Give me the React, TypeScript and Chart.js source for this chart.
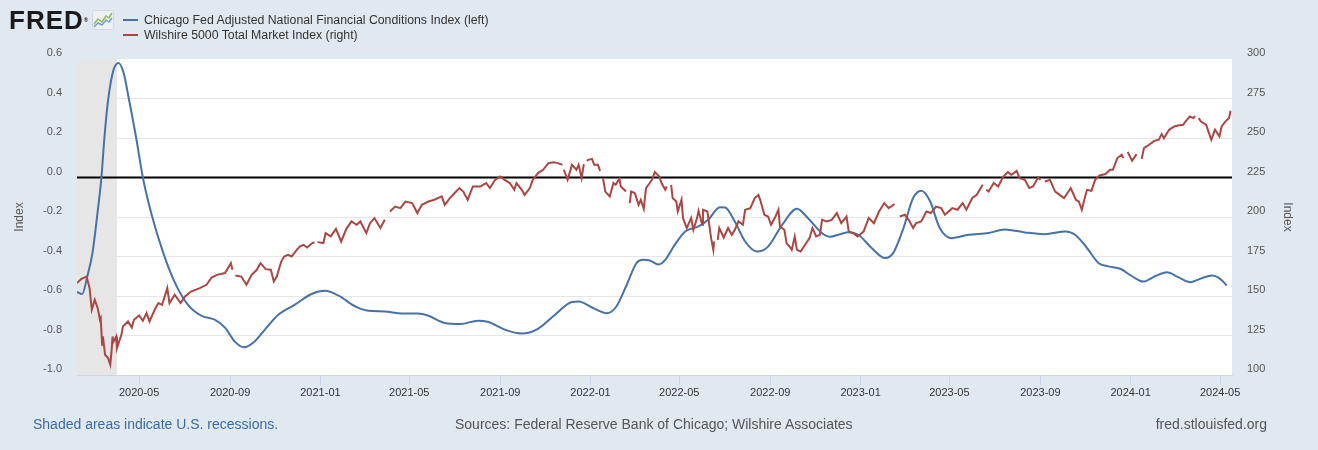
import React, { useEffect, useRef } from 'react';
import { Chart, registerables } from 'chart.js';

Chart.register(...registerables);

const FONT = '"Liberation Sans", Arial, Helvetica, sans-serif';

// ---------- data ----------
const xRange = ['2020-02-07', '2024-05-17'];
const recession = ['2020-02-01', '2020-04-01'];
const xTickLabels = ['2020-05', '2020-09', '2021-01', '2021-05', '2021-09', '2022-01', '2022-05', '2022-09', '2023-01', '2023-05', '2023-09', '2024-01', '2024-05'];
const leftTicks = [-1.0, 0.6, 0.2]; // min, max, step
const rightTicks = [100, 300, 25]; // min, max, step

const anfciDates = [
  '2020-02-07', '2020-02-14', '2020-02-21', '2020-02-28', '2020-03-06', '2020-03-11', '2020-03-15', '2020-03-20', '2020-03-27',
  '2020-04-03', '2020-04-10', '2020-04-17', '2020-04-27', '2020-05-06', '2020-05-18', '2020-06-02', '2020-06-18', '2020-07-06',
  '2020-07-24', '2020-08-11', '2020-08-25', '2020-09-07', '2020-09-20', '2020-10-04', '2020-10-18', '2020-11-05', '2020-11-27',
  '2020-12-20', '2021-01-07', '2021-01-25', '2021-02-17', '2021-03-07', '2021-03-29', '2021-04-21', '2021-05-13', '2021-05-27',
  '2021-06-18', '2021-07-09', '2021-08-02', '2021-08-16', '2021-09-07', '2021-09-30', '2021-10-22', '2021-11-14', '2021-12-07',
  '2021-12-16', '2022-01-03', '2022-01-23', '2022-02-05', '2022-02-19', '2022-03-04', '2022-03-13', '2022-03-22', '2022-04-03',
  '2022-04-12', '2022-04-25', '2022-05-09', '2022-05-27', '2022-06-09', '2022-06-25', '2022-07-02', '2022-07-15', '2022-07-29',
  '2022-08-14', '2022-08-29', '2022-09-17', '2022-10-07', '2022-10-22', '2022-11-10', '2022-11-21', '2022-12-04', '2022-12-16',
  '2022-12-29', '2023-01-16', '2023-02-03', '2023-02-14', '2023-02-28', '2023-03-13', '2023-03-24', '2023-04-05', '2023-04-18',
  '2023-05-04', '2023-05-27', '2023-06-23', '2023-07-15', '2023-08-11', '2023-09-07', '2023-10-05', '2023-10-18', '2023-11-03',
  '2023-11-19', '2023-12-02', '2023-12-18', '2024-01-03', '2024-01-18', '2024-02-03', '2024-02-19', '2024-03-06', '2024-03-22',
  '2024-04-06', '2024-04-20', '2024-05-01', '2024-05-10',
];
const anfciValues = [
  -0.58, -0.59, -0.50, -0.38, -0.17, 0.00, 0.20, 0.39, 0.54,
  0.58, 0.53, 0.40, 0.20, 0.00, -0.19, -0.375, -0.53, -0.645,
  -0.70, -0.72, -0.76, -0.83, -0.86, -0.83, -0.77, -0.695, -0.645,
  -0.59, -0.574, -0.597, -0.653, -0.675, -0.678, -0.689, -0.689, -0.70,
  -0.737, -0.742, -0.725, -0.732, -0.77, -0.79, -0.766, -0.695, -0.63,
  -0.628, -0.658, -0.687, -0.653, -0.543, -0.434, -0.417, -0.42, -0.44,
  -0.417, -0.34, -0.273, -0.248, -0.214, -0.15, -0.152, -0.223, -0.324,
  -0.375, -0.35, -0.24, -0.158, -0.206, -0.282, -0.30, -0.287, -0.277,
  -0.29, -0.357, -0.408, -0.383, -0.256, -0.104, -0.067, -0.12, -0.256,
  -0.307, -0.29, -0.281, -0.263, -0.278, -0.287, -0.273, -0.29, -0.357,
  -0.434, -0.45, -0.462, -0.50, -0.527, -0.50, -0.48, -0.506, -0.53,
  -0.51, -0.496, -0.513, -0.547,
];

const wilshireDates = [
  '2020-02-07', '2020-02-13', '2020-02-20', '2020-02-24', '2020-02-27',
  '2020-03-02', '2020-03-06', '2020-03-09', '2020-03-10', '2020-03-12', '2020-03-13', '2020-03-16', '2020-03-20', '2020-03-23', '2020-03-25', '2020-03-26', '2020-03-27', '2020-03-31',
  '2020-04-01', '2020-04-07', '2020-04-09', '2020-04-16', '2020-04-21', '2020-04-24',
  '2020-05-01', '2020-05-06', '2020-05-11', '2020-05-15', '2020-05-22', '2020-05-27',
  '2020-06-01', '2020-06-08', '2020-06-11', '2020-06-18', '2020-06-26',
  '2020-07-02', '2020-07-10', '2020-07-22', '2020-07-31',
  '2020-08-07', '2020-08-14', '2020-08-25',
  '2020-09-02', '2020-09-04', '2020-09-07', '2020-09-08', '2020-09-16', '2020-09-23', '2020-09-30',
  '2020-10-07', '2020-10-12', '2020-10-19', '2020-10-26', '2020-10-30',
  '2020-11-03', '2020-11-09', '2020-11-13', '2020-11-18', '2020-11-23', '2020-11-30',
  '2020-12-04', '2020-12-09', '2020-12-14', '2020-12-21', '2020-12-24', '2020-12-25', '2020-12-28',
  '2021-01-05', '2021-01-08', '2021-01-15', '2021-01-22', '2021-01-29',
  '2021-02-05', '2021-02-12', '2021-02-19', '2021-02-24',
  '2021-03-04', '2021-03-09', '2021-03-15', '2021-03-23', '2021-03-29',
  '2021-04-02', '2021-04-05', '2021-04-12', '2021-04-19', '2021-04-26',
  '2021-05-05', '2021-05-12', '2021-05-18', '2021-05-27',
  '2021-06-04', '2021-06-14', '2021-06-18', '2021-06-25',
  '2021-07-02', '2021-07-08', '2021-07-13', '2021-07-19', '2021-07-26',
  '2021-08-05', '2021-08-13', '2021-08-18', '2021-08-25',
  '2021-09-01', '2021-09-07', '2021-09-14', '2021-09-20', '2021-09-23', '2021-09-30',
  '2021-10-04', '2021-10-11', '2021-10-15', '2021-10-22', '2021-10-29',
  '2021-11-05', '2021-11-12', '2021-11-18', '2021-11-24', '2021-11-25', '2021-11-26',
  '2021-12-01', '2021-12-07', '2021-12-13', '2021-12-16', '2021-12-20', '2021-12-23', '2021-12-24', '2021-12-27', '2021-12-29',
  '2022-01-03', '2022-01-06', '2022-01-11', '2022-01-14', '2022-01-17', '2022-01-18', '2022-01-21', '2022-01-27',
  '2022-02-01', '2022-02-04', '2022-02-09', '2022-02-11', '2022-02-18', '2022-02-21', '2022-02-23', '2022-02-25',
  '2022-03-02', '2022-03-07', '2022-03-10', '2022-03-14', '2022-03-17', '2022-03-22', '2022-03-25', '2022-03-29',
  '2022-04-04', '2022-04-07', '2022-04-12', '2022-04-14', '2022-04-15', '2022-04-20', '2022-04-22', '2022-04-27', '2022-04-29',
  '2022-05-04', '2022-05-06', '2022-05-11', '2022-05-17', '2022-05-20', '2022-05-25', '2022-05-27',
  '2022-06-01', '2022-06-02', '2022-06-08', '2022-06-13', '2022-06-16', '2022-06-17', '2022-06-20', '2022-06-22', '2022-06-24', '2022-06-30',
  '2022-07-06', '2022-07-11', '2022-07-15', '2022-07-20', '2022-07-26', '2022-07-29',
  '2022-08-05', '2022-08-11', '2022-08-16', '2022-08-19', '2022-08-24', '2022-08-29',
  '2022-09-02', '2022-09-07', '2022-09-12', '2022-09-14', '2022-09-20', '2022-09-23', '2022-09-27', '2022-09-30',
  '2022-10-04', '2022-10-07', '2022-10-12', '2022-10-18', '2022-10-24', '2022-10-28',
  '2022-11-02', '2022-11-07', '2022-11-10', '2022-11-16', '2022-11-23', '2022-11-30',
  '2022-12-02', '2022-12-06', '2022-12-13', '2022-12-16', '2022-12-22', '2022-12-28',
  '2023-01-05', '2023-01-12', '2023-01-19', '2023-01-26',
  '2023-02-02', '2023-02-08', '2023-02-16', '2023-02-20', '2023-02-23',
  '2023-03-02', '2023-03-07', '2023-03-13', '2023-03-17', '2023-03-24', '2023-03-31',
  '2023-04-06', '2023-04-13', '2023-04-20', '2023-04-25',
  '2023-05-05', '2023-05-12', '2023-05-19', '2023-05-24',
  '2023-06-01', '2023-06-07', '2023-06-15', '2023-06-19', '2023-06-20', '2023-06-23', '2023-06-30',
  '2023-07-06', '2023-07-13', '2023-07-19', '2023-07-24', '2023-07-31',
  '2023-08-04', '2023-08-11', '2023-08-17', '2023-08-22', '2023-08-29',
  '2023-09-01', '2023-09-04', '2023-09-07', '2023-09-14', '2023-09-21', '2023-09-27',
  '2023-10-03', '2023-10-09', '2023-10-12', '2023-10-19', '2023-10-23', '2023-10-27', '2023-10-31',
  '2023-11-03', '2023-11-09', '2023-11-14', '2023-11-20', '2023-11-28',
  '2023-12-04', '2023-12-08', '2023-12-14', '2023-12-20', '2023-12-22', '2023-12-25', '2023-12-28',
  '2024-01-03', '2024-01-09', '2024-01-15', '2024-01-16', '2024-01-19', '2024-01-26',
  '2024-02-02', '2024-02-08', '2024-02-12', '2024-02-15', '2024-02-22', '2024-02-29',
  '2024-03-05', '2024-03-12', '2024-03-15', '2024-03-21', '2024-03-26', '2024-03-28', '2024-03-29',
  '2024-04-02', '2024-04-05', '2024-04-12', '2024-04-19', '2024-04-24', '2024-04-30',
  '2024-05-03', '2024-05-08', '2024-05-13', '2024-05-15',
];
const wilshireValues = [
  158.2, 160.9, 162.3, 155.0, 141.3,
  147.6, 142.3, 135.0, 136.0, 119.1, 124.4, 112.8, 110.7, 106.5, 117.0, 124.4, 120.8, 124.4,
  117.0, 125.4, 130.7, 133.9, 130.1, 135.0,
  137.7, 134.3, 139.2, 133.9, 141.3, 145.5,
  144.4, 155.0, 145.5, 150.8, 145.5,
  149.7, 152.8, 155.0, 157.1,
  161.7, 163.4, 164.5,
  170.8, 166.6, null, 163.0, 162.3, 157.1, 163.4,
  166.6, 170.8, 167.0, 166.6, 159.2,
  162.3, 171.8, 175.0, 176.1, 175.0, 179.2,
  181.3, 182.4, 180.7, 183.5, 184.0, null, 184.1,
  183.5, 189.8, 187.7, 192.5, 184.5,
  192.5, 197.2, 195.1, 197.2,
  189.8, 196.1, 199.3, 193.0, 198.2,
  null, 203.5, 206.6, 205.6, 209.8,
  208.8, 202.5, 207.7, 209.8,
  210.9, 213.0, 207.7, 212.0,
  215.5, 218.3, 216.1, 210.9, 219.3,
  219.3, 221.5, 218.3, 223.5,
  225.6, 223.5, 221.5, 217.2, 221.5, 217.2,
  214.0, 218.3, 223.5, 227.8, 229.9,
  234.1, 234.7, 234.1, 233.0, null, 229.9,
  223.5, 233.0, 229.9, 233.0, 224.6, 233.5, null, 235.5, 236.2,
  236.8, 233.0, 233.0, 229.2, null, 224.2, 216.1, 213.0,
  221.5, 220.4, 224.2, 219.3, 216.1, null, 208.8, 216.1,
  215.1, 207.7, 210.9, 205.2, 218.3, 221.5, 223.5, 228.4,
  225.6, 221.5, 217.2, 219.3, null, 220.4, 212.0, 209.8, 203.5,
  210.9, 199.3, 193.0, 199.3, 191.9, 199.3, 203.9,
  195.1, 204.6, 203.5, 186.6, 179.2, 184.5, null, 185.6, 193.0, 187.0,
  193.0, 188.7, 191.9, 197.2, 195.1, 204.6,
  205.6, 212.0, 214.0, 209.8, 201.4, 200.3,
  195.1, 199.3, 204.6, 194.0, 191.9, 183.5, 181.3, 179.2,
  187.7, 179.2, 178.2, 182.4, 186.6, 193.0,
  187.7, 188.7, 198.2, 197.2, 198.2, 202.5,
  200.3, 196.1, 200.3, 190.8, 189.8, 187.7,
  190.8, 199.3, 196.1, 203.5,
  208.8, 205.6, 208.2, null, 200.3,
  201.4, 198.2, 193.0, 196.1, 197.2, 203.5,
  202.5, 206.6, 205.6, 201.4,
  205.6, 204.6, 208.8, 204.6,
  212.0, 214.0, 220.4, null, 217.2, 216.1, 221.5,
  219.3, 225.6, 228.4, 226.7, 229.2,
  224.6, 223.5, 218.3, 219.3, 225.0,
  223.5, null, 222.5, 223.5, 216.1, 214.0,
  212.0, 216.1, 218.3, 210.9, 209.8, 204.6, 212.0,
  217.2, 216.6, 223.5, 226.3, 227.2,
  229.9, 229.9, 237.3, 239.4, 237.3, null, 241.1,
  235.6, 239.8, null, 236.8, 243.6, 245.7,
  248.2, 248.9, 252.5, 249.9, 255.2, 257.3,
  257.9, 258.4, 260.4, 263.6, 262.6, 264.0, null,
  262.6, 260.4, 258.4, 248.9, 255.2, 251.0,
  257.3, 260.4, 262.6, 267.2,
];

// ---------- helpers ----------
function toMs(d: string): number {
  const p = d.split('-').map(Number);
  return Date.UTC(p[0], p[1] - 1, p[2] || 1);
}

const fredPlugin = {
  id: 'fredDecor',
  beforeDraw(chart: any) {
    const { ctx, chartArea: a } = chart;
    ctx.save();
    ctx.fillStyle = '#ffffff';
    ctx.fillRect(a.left, a.top, a.right - a.left, a.bottom - a.top);
    ctx.restore();
  },
  beforeDatasetsDraw(chart: any) {
    const { ctx, chartArea: a, scales } = chart;
    const xs = scales.x;
    const x0 = Math.max(a.left, xs.getPixelForValue(toMs(recession[0])));
    const x1 = Math.min(a.right, xs.getPixelForValue(toMs(recession[1])));
    ctx.save();
    ctx.fillStyle = '#e6e6e6';
    ctx.fillRect(x0, a.top, x1 - x0, a.bottom - a.top);
    const y0 = scales.y.getPixelForValue(0);
    ctx.strokeStyle = '#000000';
    ctx.lineWidth = 2;
    ctx.beginPath();
    ctx.moveTo(a.left, y0);
    ctx.lineTo(a.right, y0);
    ctx.stroke();
    ctx.restore();
  },
};

export default function App() {
  const canvasRef = useRef<HTMLCanvasElement | null>(null);

  useEffect(() => {
    document.body.style.margin = '0';
    const canvas = canvasRef.current;
    if (!canvas) return;

    const anfciData = anfciDates.map((d, i) => ({ x: toMs(d), y: anfciValues[i] }));
    const wilData = wilshireDates.map((d, i) => ({ x: toMs(d), y: wilshireValues[i] }));
    const tickFont = { family: FONT, size: 11 };

    const chart = new Chart(canvas, {
      type: 'line',
      data: {
        datasets: [
          {
            label: 'Wilshire 5000 Total Market Index (right)',
            data: wilData as any,
            yAxisID: 'y2',
            borderColor: '#aa4643',
            borderWidth: 2,
            pointRadius: 0,
            tension: 0,
            spanGaps: false,
            order: 1,
          },
          {
            label: 'Chicago Fed Adjusted National Financial Conditions Index (left)',
            data: anfciData as any,
            yAxisID: 'y',
            borderColor: '#4572a7',
            borderWidth: 2,
            pointRadius: 0,
            cubicInterpolationMode: 'monotone',
            order: 2,
          },
        ],
      },
      options: {
        animation: false,
        responsive: true,
        maintainAspectRatio: false,
        layout: { padding: { top: 59, left: 0, right: 0, bottom: 0 } },
        plugins: { legend: { display: false }, tooltip: { enabled: false }, title: { display: false } },
        scales: {
          x: {
            type: 'linear',
            min: toMs(xRange[0]),
            max: toMs(xRange[1]),
            afterBuildTicks: (s: any) => {
              s.ticks = xTickLabels.map((l) => ({ value: toMs(l + '-01') }));
            },
            afterFit: (s: any) => {
              s.height = 75;
            },
            ticks: {
              autoSkip: false,
              maxRotation: 0,
              minRotation: 0,
              color: '#333333',
              font: tickFont,
              padding: 1,
              callback: (_v: any, i: number) => xTickLabels[i],
            },
            grid: { drawOnChartArea: false, drawTicks: true, tickLength: 10, color: '#ccd6eb' },
            border: { display: true, color: '#ccd6eb' },
          },
          y: {
            position: 'left',
            min: leftTicks[0],
            max: leftTicks[1],
            afterFit: (s: any) => {
              s.width = 77;
            },
            ticks: {
              stepSize: leftTicks[2],
              color: '#555555',
              font: tickFont,
              padding: 15,
              labelOffset: -6,
              callback: (v: any) => (Math.abs(Number(v)) < 1e-9 ? '0.0' : Number(v).toFixed(1)),
            },
            grid: {
              drawTicks: false,
              color: (c: any) => {
                const v = c.tick ? c.tick.value : 0;
                return Math.abs(v - leftTicks[1]) < 1e-9 || Math.abs(v - leftTicks[0]) < 1e-9 ? 'rgba(0,0,0,0)' : '#e6e6e6';
              },
            },
            border: { display: false },
            title: { display: true, text: 'Index', color: '#555555', font: { family: FONT, size: 12 }, padding: { top: 12, bottom: 0 } },
          },
          y2: {
            position: 'right',
            min: rightTicks[0],
            max: rightTicks[1],
            afterFit: (s: any) => {
              s.width = 86;
            },
            ticks: {
              stepSize: rightTicks[2],
              color: '#555555',
              font: tickFont,
              padding: 15,
              labelOffset: -6,
            },
            grid: { drawOnChartArea: false, drawTicks: false },
            border: { display: false },
            title: { display: true, text: 'Index', color: '#555555', font: { family: FONT, size: 12 }, padding: { top: 23, bottom: 0 } },
          },
        },
      } as any,
      plugins: [fredPlugin],
    });

    return () => chart.destroy();
  }, []);

  const legendRow = (color: string, text: string, top: number) => (
    <div style={{ position: 'absolute', left: 123, top, height: 16, display: 'flex', alignItems: 'center', whiteSpace: 'nowrap' }}>
      <span style={{ display: 'inline-block', width: 15, height: 2, background: color, marginRight: 6 }} />
      <span style={{ fontFamily: FONT, fontSize: 12.3, color: '#333333' }}>{text}</span>
    </div>
  );

  return (
    <div style={{ position: 'fixed', left: 0, top: 0, width: 1318, height: 450, background: '#e1e9f0', overflow: 'hidden' }}>
      <div style={{ position: 'absolute', left: 0, top: 0, width: 1318, height: 450 }}>
        <canvas ref={canvasRef} />
      </div>
      <div style={{ position: 'absolute', left: 9, top: 5, fontFamily: FONT, fontWeight: 'bold', fontSize: 26, letterSpacing: 1, color: '#1b1b1b', lineHeight: '30px', whiteSpace: 'nowrap' }}>
        FRED<span style={{ fontSize: 6, verticalAlign: 'bottom', letterSpacing: 0 }}>®</span>
      </div>
      <svg style={{ position: 'absolute', left: 92, top: 10 }} width="22" height="20" viewBox="0 0 22 20">
        <rect x="0.5" y="0.5" width="21" height="19" rx="2" fill="#eef1f3" stroke="#d3d8dc" />
        <polyline points="2,14 6,9 10,12 14,6 17,8 20,3" fill="none" stroke="#8cbf4b" strokeWidth="1.5" />
        <polyline points="2,17 6,13 10,15 14,10 17,12 20,8" fill="none" stroke="#6f9fd8" strokeWidth="1.5" />
      </svg>
      {legendRow('#4572a7', 'Chicago Fed Adjusted National Financial Conditions Index (left)', 12)}
      {legendRow('#aa4643', 'Wilshire 5000 Total Market Index (right)', 27)}
      <div style={{ position: 'absolute', left: 33, top: 416, fontFamily: FONT, fontSize: 14, color: '#3b6ba5', whiteSpace: 'nowrap' }}>
        Shaded areas indicate U.S. recessions.
      </div>
      <div style={{ position: 'absolute', left: 455, top: 416, fontFamily: FONT, fontSize: 14, color: '#555555', whiteSpace: 'nowrap' }}>
        Sources: Federal Reserve Bank of Chicago; Wilshire Associates
      </div>
      <div style={{ position: 'absolute', right: 51, top: 416, fontFamily: FONT, fontSize: 14, color: '#555555', whiteSpace: 'nowrap' }}>
        fred.stlouisfed.org
      </div>
    </div>
  );
}
